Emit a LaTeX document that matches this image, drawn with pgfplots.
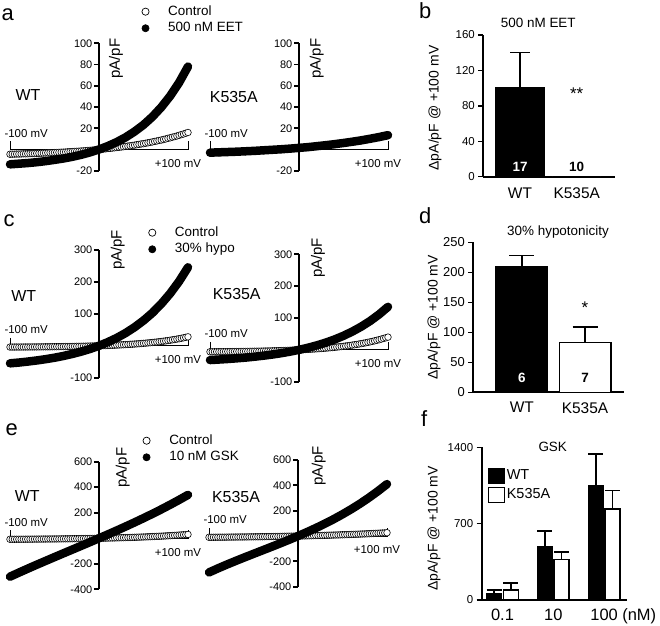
\documentclass[border=0pt]{standalone}
\usepackage{fontspec}
\setmainfont{Liberation Sans}
\usepackage{pgfplots}
\pgfplotsset{compat=1.18}
\newcommand{\fs}[1]{\fontsize{#1}{#1}\selectfont}

% bracket for the voltage ramp (-100 .. +100 mV) at 0 pA/pF
\newcommand{\bracket}{\draw[line width=0.8bp] ([yshift=8bp]axis cs:-100,0) -- (axis cs:-100,0) -- (axis cs:100,0) -- ([yshift=8bp]axis cs:100,0);}
\newcommand{\mvlabels}{%
  \node[anchor=west,font=\fs{11.5}] at ([xshift=-9bp,yshift=16bp]axis cs:-100,0) {-100 mV};
  \node[font=\fs{11.5}] at ([xshift=-10bp,yshift=-14bp]axis cs:100,0) {+100 mV};}

\pgfplotsset{
  iv/.style={
    scale only axis, width=178bp, clip=false, clip marker paths=true,
    xmin=-100, xmax=100,
    axis x line=none, axis y line=middle,
    axis line style={-},
    y axis line style={line width=1.8bp},
    ytick align=outside, major tick length=5bp,
    ytick style={line width=1.8bp, black},
    yticklabel style={font=\fs{11}, inner sep=1.5bp},
    legend style={draw=none, fill=none, inner sep=0pt, font=\fs{13.5},
      nodes={inner sep=1bp, text height=9.5bp, text depth=2.5bp}, row sep=2.6bp},
    legend cell align=left,
  },
  ctrl/.style={only marks, mark=*, mark size=3.3bp,
    mark options={fill=white, draw=black, line width=0.6bp},
    legend image code/.code={\draw[black, fill=white, line width=0.7bp] (3.8bp,0) circle (3.6bp); \path[draw=none, fill=none] (0,0) -- (25.5bp,0);}},
  drug/.style={black, line width=8.5bp, line cap=round, line join=round, mark=none,
    legend image code/.code={\draw[black, fill=black, line width=0.6bp] (3.8bp,0) circle (3.6bp); \path[draw=none, fill=none] (0,0) -- (25.5bp,0);}},
  barax/.style={
    scale only axis, ybar, bar shift=0pt, clip=false,
    axis x line=bottom, axis y line=left,
    axis line style={-, line width=1.8bp},
    enlarge x limits=false, enlarge y limits=false,
    ytick align=outside, major tick length=5bp,
    ytick style={line width=1.5bp, black},
    xtick style={draw=none},
  },
  eb/.style={error bars/.cd, y dir=plus, y explicit,
    error bar style={line width=1.5bp, black},
    error mark options={rotate=90, line width=1.5bp, mark size=#1, black}},
}

\begin{document}
\begin{tikzpicture}
\useasboundingbox (0,0) rectangle (660bp,-626bp);

% ---------------- a ----------------
\begin{axis}[iv, at={(10bp,-170.7bp)}, anchor=south west, height=127.4bp,
  ymin=-20, ymax=100, ytick={-20,20,40,60,80,100}, yticklabels={-20,20,40,60,80,100},
  legend style={at={(axis description cs:0.738,1.305)}, anchor=north west}]
\bracket
\addplot[ctrl] coordinates {(-100,-4.5) (-97.5,-4.4) (-95,-4.4) (-92.5,-4.3) (-90,-4.3) (-87.5,-4.2) (-85,-4.1) (-82.5,-4.1) (-80,-4.0) (-77.5,-3.9) (-75,-3.8) (-72.5,-3.8) (-70,-3.7) (-67.5,-3.6) (-65,-3.5) (-62.5,-3.4) (-60,-3.3) (-57.5,-3.2) (-55,-3.1) (-52.5,-3.0) (-50,-2.9) (-47.5,-2.8) (-45,-2.7) (-42.5,-2.6) (-40,-2.5) (-37.5,-2.4) (-35,-2.2) (-32.5,-2.1) (-30,-2.0) (-27.5,-1.8) (-25,-1.7) (-22.5,-1.6) (-20,-1.4) (-17.5,-1.3) (-15,-1.1) (-12.5,-0.9) (-10,-0.8) (-7.5,-0.6) (-5,-0.4) (-2.5,-0.2) (0,0) (2.5,0.2) (5,0.4) (7.5,0.6) (10,0.9) (12.5,1.1) (15,1.3) (17.5,1.6) (20,1.8) (22.5,2.1) (25,2.3) (27.5,2.6) (30,2.9) (32.5,3.2) (35,3.5) (37.5,3.8) (40,4.1) (42.5,4.5) (45,4.8) (47.5,5.2) (50,5.5) (52.5,5.9) (55,6.3) (57.5,6.7) (60,7.1) (62.5,7.6) (65,8.0) (67.5,8.5) (70,8.9) (72.5,9.4) (75,9.9) (77.5,10.5) (80,11.0) (82.5,11.6) (85,12.1) (87.5,12.7) (90,13.3) (92.5,14.0) (95,14.6) (97.5,15.3) (100,16.0)};
\addlegendentry{Control}
\addplot[drug] coordinates {(-100,-14.0) (-90,-13.4) (-80,-12.8) (-70,-12.0) (-60,-11.0) (-50,-9.8) (-40,-8.5) (-30,-6.9) (-20,-5.0) (-10,-2.7) (0,0) (10,3.2) (20,7.0) (30,11.5) (40,16.9) (50,23.2) (60,30.8) (70,39.8) (80,50.4) (90,63.0) (100,78.1)};
\addlegendentry{500 nM EET}
\mvlabels
\end{axis}

\begin{axis}[iv, at={(210bp,-170.7bp)}, anchor=south west, height=127.4bp,
  ymin=-20, ymax=100, ytick={-20,20,40,60,80,100}, yticklabels={-20,20,40,60,80,100}]
\bracket
\addplot[ctrl] coordinates {(-100,-3.4) (-90,-3.1) (-80,-2.8) (-70,-2.5) (-60,-2.1) (-50,-1.7) (-40,-1.2) (-30,-0.7) (-20,-0.2) (-10,0.4) (0,1.1) (10,1.8) (20,2.7) (30,3.6) (40,4.6) (50,5.7) (60,6.9) (70,8.2) (80,9.7) (90,11.3) (100,13.1)};
\addplot[drug] coordinates {(-100,-3.0) (-90,-2.7) (-80,-2.4) (-70,-2.1) (-60,-1.7) (-50,-1.3) (-40,-0.8) (-30,-0.3) (-20,0.2) (-10,0.8) (0,1.5) (10,2.2) (20,3.1) (30,4.0) (40,5.0) (50,6.1) (60,7.3) (70,8.6) (80,10.1) (90,11.7) (100,13.5)};
\mvlabels
\end{axis}

% ---------------- c ----------------
\begin{axis}[iv, at={(10bp,-377.7bp)}, anchor=south west, height=127.7bp,
  ymin=-100, ymax=300, ytick={-100,100,200,300}, yticklabels={-100,100,200,300},
  legend style={at={(axis description cs:0.776,1.192)}, anchor=north west}]
\bracket
\addplot[ctrl] coordinates {(-100,-4.0) (-97.5,-4.0) (-95,-3.9) (-92.5,-3.9) (-90,-3.9) (-87.5,-3.8) (-85,-3.8) (-82.5,-3.7) (-80,-3.7) (-77.5,-3.6) (-75,-3.6) (-72.5,-3.5) (-70,-3.5) (-67.5,-3.4) (-65,-3.4) (-62.5,-3.3) (-60,-3.2) (-57.5,-3.1) (-55,-3.1) (-52.5,-3.0) (-50,-2.9) (-47.5,-2.8) (-45,-2.7) (-42.5,-2.6) (-40,-2.5) (-37.5,-2.4) (-35,-2.3) (-32.5,-2.2) (-30,-2.1) (-27.5,-1.9) (-25,-1.8) (-22.5,-1.7) (-20,-1.5) (-17.5,-1.4) (-15,-1.2) (-12.5,-1.0) (-10,-0.8) (-7.5,-0.6) (-5,-0.4) (-2.5,-0.2) (0,0) (2.5,0.2) (5,0.5) (7.5,0.7) (10,1.0) (12.5,1.3) (15,1.6) (17.5,1.9) (20,2.2) (22.5,2.6) (25,2.9) (27.5,3.3) (30,3.7) (32.5,4.1) (35,4.6) (37.5,5.0) (40,5.5) (42.5,6.0) (45,6.5) (47.5,7.1) (50,7.7) (52.5,8.3) (55,9.0) (57.5,9.6) (60,10.3) (62.5,11.1) (65,11.9) (67.5,12.7) (70,13.6) (72.5,14.5) (75,15.4) (77.5,16.4) (80,17.5) (82.5,18.6) (85,19.7) (87.5,21.0) (90,22.2) (92.5,23.6) (95,25.0) (97.5,26.5) (100,28.0)};
\addlegendentry{Control}
\addplot[drug] coordinates {(-100,-55.0) (-90,-52.5) (-80,-49.5) (-70,-46.0) (-60,-42.0) (-50,-37.4) (-40,-31.9) (-30,-25.6) (-20,-18.3) (-10,-9.9) (0,0) (10,11.5) (20,24.7) (30,40.2) (40,58.2) (50,79.0) (60,103.1) (70,131.3) (80,164.0) (90,201.8) (100,245.9)};
\addlegendentry{30\% hypo}
\mvlabels
\end{axis}

\begin{axis}[iv, at={(210bp,-381.7bp)}, anchor=south west, height=127.4bp,
  ymin=-100, ymax=300, ytick={-100,100,200,300}, yticklabels={-100,100,200,300}]
\bracket
\addplot[ctrl] coordinates {(-100,-6.0) (-97.5,-6.0) (-95,-5.9) (-92.5,-5.8) (-90,-5.8) (-87.5,-5.7) (-85,-5.7) (-82.5,-5.6) (-80,-5.5) (-77.5,-5.4) (-75,-5.4) (-72.5,-5.3) (-70,-5.2) (-67.5,-5.1) (-65,-5.0) (-62.5,-4.9) (-60,-4.8) (-57.5,-4.7) (-55,-4.6) (-52.5,-4.5) (-50,-4.3) (-47.5,-4.2) (-45,-4.1) (-42.5,-3.9) (-40,-3.8) (-37.5,-3.6) (-35,-3.4) (-32.5,-3.3) (-30,-3.1) (-27.5,-2.9) (-25,-2.7) (-22.5,-2.5) (-20,-2.2) (-17.5,-2.0) (-15,-1.8) (-12.5,-1.5) (-10,-1.2) (-7.5,-0.9) (-5,-0.6) (-2.5,-0.3) (0,0) (2.5,0.3) (5,0.7) (7.5,1.1) (10,1.5) (12.5,1.9) (15,2.3) (17.5,2.8) (20,3.3) (22.5,3.8) (25,4.3) (27.5,4.8) (30,5.4) (32.5,6.0) (35,6.7) (37.5,7.3) (40,8.0) (42.5,8.8) (45,9.5) (47.5,10.3) (50,11.2) (52.5,12.1) (55,13.0) (57.5,14.0) (60,15.0) (62.5,16.1) (65,17.2) (67.5,18.4) (70,19.6) (72.5,20.9) (75,22.2) (77.5,23.7) (80,25.2) (82.5,26.7) (85,28.4) (87.5,30.1) (90,31.9) (92.5,33.8) (95,35.8) (97.5,37.9) (100,40.0)};
\addplot[drug] coordinates {(-100,-32.0) (-90,-30.4) (-80,-28.7) (-70,-26.6) (-60,-24.3) (-50,-21.5) (-40,-18.3) (-30,-14.7) (-20,-10.5) (-10,-5.6) (0,0) (10,6.5) (20,14.0) (30,22.6) (40,32.6) (50,44.2) (60,57.6) (70,73.0) (80,90.8) (90,111.4) (100,135.1)};
\mvlabels
\end{axis}

% ---------------- e ----------------
\begin{axis}[iv, at={(10bp,-589.3bp)}, anchor=south west, height=127.6bp,
  ymin=-400, ymax=600, ytick={-400,-200,200,400,600}, yticklabels={-400,-200,200,400,600},
  legend style={at={(axis description cs:0.744,1.221)}, anchor=north west}]
\bracket
\addplot[ctrl] coordinates {(-100,-8.0) (-97.5,-7.9) (-95,-7.8) (-92.5,-7.7) (-90,-7.6) (-87.5,-7.5) (-85,-7.4) (-82.5,-7.2) (-80,-7.1) (-77.5,-7.0) (-75,-6.9) (-72.5,-6.7) (-70,-6.6) (-67.5,-6.4) (-65,-6.3) (-62.5,-6.1) (-60,-6.0) (-57.5,-5.8) (-55,-5.6) (-52.5,-5.5) (-50,-5.3) (-47.5,-5.1) (-45,-4.9) (-42.5,-4.7) (-40,-4.5) (-37.5,-4.3) (-35,-4.0) (-32.5,-3.8) (-30,-3.6) (-27.5,-3.3) (-25,-3.1) (-22.5,-2.8) (-20,-2.5) (-17.5,-2.3) (-15,-2.0) (-12.5,-1.7) (-10,-1.4) (-7.5,-1.0) (-5,-0.7) (-2.5,-0.4) (0,0) (2.5,0.4) (5,0.8) (7.5,1.1) (10,1.5) (12.5,2.0) (15,2.4) (17.5,2.8) (20,3.3) (22.5,3.8) (25,4.3) (27.5,4.8) (30,5.3) (32.5,5.9) (35,6.4) (37.5,7.0) (40,7.6) (42.5,8.2) (45,8.9) (47.5,9.5) (50,10.2) (52.5,10.9) (55,11.7) (57.5,12.4) (60,13.2) (62.5,14.0) (65,14.9) (67.5,15.7) (70,16.6) (72.5,17.5) (75,18.5) (77.5,19.5) (80,20.5) (82.5,21.6) (85,22.7) (87.5,23.8) (90,25.0) (92.5,26.2) (95,27.4) (97.5,28.7) (100,30.0)};
\addlegendentry{Control}
\addplot[drug] coordinates {(-100,-301.0) (-90,-269.1) (-80,-238.0) (-70,-207.4) (-60,-177.4) (-50,-147.7) (-40,-118.2) (-30,-88.8) (-20,-59.4) (-10,-29.8) (0,0) (10,30.2) (20,61.0) (30,92.4) (40,124.4) (50,157.5) (60,191.4) (70,226.6) (80,263.0) (90,300.7) (100,340.0)};
\addlegendentry{10 nM GSK}
\mvlabels
\end{axis}

\begin{axis}[iv, at={(209bp,-586.7bp)}, anchor=south west, height=126.7bp,
  ymin=-400, ymax=600, ytick={-400,-200,200,400,600}, yticklabels={-400,-200,200,400,600}]
\bracket
\addplot[ctrl] coordinates {(-100,-10.0) (-97.5,-9.9) (-95,-9.7) (-92.5,-9.5) (-90,-9.4) (-87.5,-9.2) (-85,-9.0) (-82.5,-8.9) (-80,-8.7) (-77.5,-8.5) (-75,-8.3) (-72.5,-8.1) (-70,-7.9) (-67.5,-7.7) (-65,-7.5) (-62.5,-7.3) (-60,-7.1) (-57.5,-6.9) (-55,-6.6) (-52.5,-6.4) (-50,-6.2) (-47.5,-5.9) (-45,-5.7) (-42.5,-5.4) (-40,-5.2) (-37.5,-4.9) (-35,-4.6) (-32.5,-4.3) (-30,-4.1) (-27.5,-3.8) (-25,-3.5) (-22.5,-3.1) (-20,-2.8) (-17.5,-2.5) (-15,-2.2) (-12.5,-1.8) (-10,-1.5) (-7.5,-1.1) (-5,-0.8) (-2.5,-0.4) (0,0) (2.5,0.4) (5,0.8) (7.5,1.2) (10,1.6) (12.5,2.1) (15,2.5) (17.5,3.0) (20,3.4) (22.5,3.9) (25,4.4) (27.5,4.9) (30,5.4) (32.5,5.9) (35,6.5) (37.5,7.0) (40,7.6) (42.5,8.1) (45,8.7) (47.5,9.3) (50,10.0) (52.5,10.6) (55,11.2) (57.5,11.9) (60,12.6) (62.5,13.3) (65,14.0) (67.5,14.7) (70,15.5) (72.5,16.2) (75,17.0) (77.5,17.8) (80,18.6) (82.5,19.5) (85,20.4) (87.5,21.2) (90,22.1) (92.5,23.1) (95,24.0) (97.5,25.0) (100,26.0)};
\addplot[drug] coordinates {(-100,-287.0) (-90,-255.6) (-80,-225.4) (-70,-196.5) (-60,-168.4) (-50,-140.7) (-40,-113.3) (-30,-85.8) (-20,-57.9) (-10,-29.4) (0,0) (10,30.7) (20,62.9) (30,96.8) (40,132.9) (50,171.5) (60,212.6) (70,256.7) (80,304.2) (90,355.2) (100,410.0)};
\mvlabels
\end{axis}

% ---------------- b ----------------
\begin{axis}[barax, at={(483.3bp,-176.7bp)}, anchor=south west, width=131.7bp, height=141.7bp,
  xmin=-0.647, xmax=1.675, ymin=0, ymax=160, ytick={0,40,80,120,160}, yticklabels={0,40,80,120,160},
  yticklabel style={font=\fs{11.5}},
  xtick={0,1}, xticklabels={WT,K535A}, xticklabel style={font=\fs{15.5}, yshift=-5bp},
  bar width=48bp]
\addplot[fill=black, draw=black, line width=1.5bp, eb=10bp] coordinates {(0,101) +- (0,39.5)};
\addplot[fill=white, draw=black, line width=1.5bp] coordinates {(1,0)};
\node[text=white, font=\fs{13.5}\bfseries] at (axis cs:0,11.3) {17};
\node[font=\fs{13.5}\bfseries] at (axis cs:1,11.3) {10};
\node[anchor=base, font=\fs{17}] at (axis cs:1,86.7) {**};
\end{axis}

% ---------------- d ----------------
\begin{axis}[barax, at={(473.3bp,-392.3bp)}, anchor=south west, width=150.7bp, height=150bp,
  xmin=-0.767, xmax=1.617, ymin=0, ymax=250, ytick={0,50,100,150,200,250}, yticklabels={0,50,100,150,200,250},
  yticklabel style={font=\fs{13}},
  xtick={0,1}, xticklabels={WT,K535A}, xticklabel style={font=\fs{15.5}, yshift=-4bp},
  bar width=51.5bp]
\addplot[fill=black, draw=black, line width=1.5bp, eb=12.5bp] coordinates {(0,209) +- (0,19)};
\addplot[fill=white, draw=black, line width=1.5bp, eb=12.5bp] coordinates {(1,82.7) +- (0,26.3)};
\node[text=white, font=\fs{13.5}\bfseries] at (axis cs:0,23.3) {6};
\node[font=\fs{13.5}\bfseries] at (axis cs:1,23.3) {7};
\node[anchor=base, font=\fs{17}] at (axis cs:1,131.8) {*};
\end{axis}

% ---------------- f ----------------
\begin{axis}[barax, at={(481.7bp,-600bp)}, anchor=south west, width=145bp, height=152.7bp,
  xmin=-0.409, xmax=2.445, ymin=0, ymax=1400, ytick={0,700,1400}, yticklabels={0,700,1400},
  yticklabel style={font=\fs{11.5}},
  xtick={0,1,2}, xticklabels={0.1,10,100\rlap{ (nM)}}, xticklabel style={font=\fs{16.5}, yshift=-3bp},
  bar width=15bp,
  legend style={at={(axis description cs:0.043,0.868)}, anchor=north west, draw=none, fill=none,
    inner sep=0pt, font=\fs{14.5}, row sep=3bp, nodes={inner sep=1.5bp, text height=10bp, text depth=2.5bp}},
  legend cell align=left]
\addplot[fill=black, draw=black, line width=1.5bp, bar shift=-8.3bp,
  legend image code/.code={\draw[fill=black, line width=1.2bp] (0bp,-7.5bp) rectangle (16bp,7.5bp);},
  eb=7.5bp] coordinates {(0,60) +- (0,30) (1,484) +- (0,148) (2,1043) +- (0,295)};
\addlegendentry{WT}
\addplot[fill=white, draw=black, line width=1.5bp, bar shift=8.3bp,
  legend image code/.code={\draw[fill=white, line width=1.2bp] (0bp,-7.5bp) rectangle (16bp,7.5bp);},
  eb=7.5bp] coordinates {(0,90) +- (0,65) (1,371) +- (0,67) (2,834) +- (0,172)};
\addlegendentry{K535A}
\end{axis}

% ---------------- texts ----------------
\begin{scope}[font=\fs{22}]
\node[anchor=base west, inner sep=0] at (1.5bp,-20bp) {a};
\node[anchor=base west, inner sep=0] at (419bp,-18.3bp) {b};
\node[anchor=base west, inner sep=0] at (3.5bp,-226.7bp) {c};
\node[anchor=base west, inner sep=0] at (419bp,-223.3bp) {d};
\node[anchor=base west, inner sep=0] at (5.5bp,-435bp) {e};
\node[anchor=base west, inner sep=0] at (421bp,-426.7bp) {f};
\end{scope}
\begin{scope}[font=\fs{16}]
\node at (28bp,-95bp) {WT};
\node at (233.8bp,-96.7bp) {K535A};
\node at (23.8bp,-296bp) {WT};
\node at (236.7bp,-294.3bp) {K535A};
\node at (27.2bp,-496bp) {WT};
\node at (236bp,-497.3bp) {K535A};
\end{scope}
\begin{scope}[font=\fs{15}]
\node[rotate=90] at (116bp,-58.5bp) {pA/pF};
\node[rotate=90] at (316.7bp,-58.7bp) {pA/pF};
\node[rotate=90] at (117.7bp,-250bp) {pA/pF};
\node[rotate=90] at (318bp,-258bp) {pA/pF};
\node[rotate=90] at (122.8bp,-467.7bp) {pA/pF};
\node[rotate=90] at (318.7bp,-466bp) {pA/pF};
\end{scope}
\begin{scope}[font=\fs{14}]
\node[rotate=90] at (435bp,-108bp) {ΔpA/pF @ +100 mV};
\node[rotate=90] at (434bp,-317.5bp) {ΔpA/pF @ +100 mV};
\node[rotate=90] at (434bp,-528.5bp) {ΔpA/pF @ +100 mV};
\end{scope}
\begin{scope}[font=\fs{13.5}]
\node at (538.3bp,-23.3bp) {500 nM EET};
\node at (558bp,-231.7bp) {30\% hypotonicity};
\node at (552.7bp,-446.7bp) {GSK};
\end{scope}
\end{tikzpicture}
\end{document}
